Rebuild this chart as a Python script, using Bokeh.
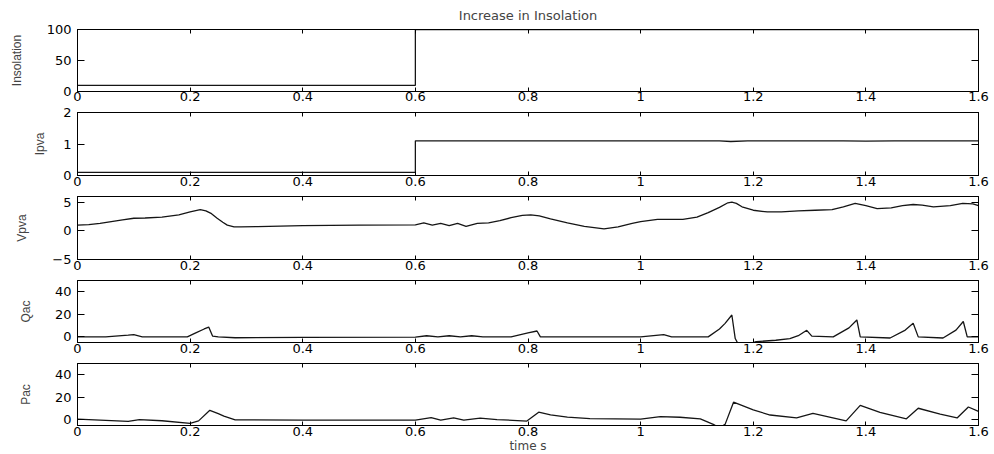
from bokeh.plotting import figure
from bokeh.models import (Range1d, LinearAxis, FixedTicker, NumeralTickFormatter,
                          CustomLabelingPolicy)
from bokeh.layouts import column
from bokeh.embed import file_html
from bokeh.resources import INLINE

# ---------------- data ----------------
x_ticks = [0, 0.2, 0.4, 0.6, 0.8, 1.0, 1.2, 1.4, 1.6]

ins_t = [0.0, 0.6, 0.6, 1.6]
ins_v = [10, 10, 100, 100]

ipva_t = [0.0, 0.6, 0.6, 1.14, 1.16, 1.19, 1.36, 1.40, 1.45, 1.6]
ipva_v = [0.1, 0.1, 1.1, 1.1, 1.08, 1.1, 1.1, 1.09, 1.1, 1.1]

vpva_t = [0, 0.02, 0.04, 0.06, 0.08, 0.1, 0.12, 0.15, 0.18, 0.2, 0.21, 0.218, 0.228,
          0.238, 0.248, 0.258, 0.266, 0.278, 0.29, 0.32, 0.4, 0.5, 0.6, 0.615, 0.63,
          0.645, 0.66, 0.675, 0.69, 0.71, 0.73, 0.75, 0.77, 0.79, 0.805, 0.82, 0.84,
          0.87, 0.9, 0.935, 0.96, 0.985, 1.0, 1.03, 1.075, 1.1, 1.12, 1.14, 1.155,
          1.162, 1.17, 1.18, 1.2, 1.225, 1.25, 1.28, 1.31, 1.34, 1.36, 1.381, 1.40,
          1.42, 1.445, 1.465, 1.484, 1.5, 1.52, 1.55, 1.572, 1.59, 1.6]
vpva_v = [1.0, 1.1, 1.3, 1.6, 1.9, 2.2, 2.25, 2.4, 2.8, 3.3, 3.55, 3.7, 3.5,
          3.0, 2.2, 1.5, 1.0, 0.7, 0.7, 0.75, 0.9, 1.0, 1.05, 1.4, 1.0,
          1.3, 0.9, 1.3, 0.8, 1.3, 1.4, 1.8, 2.3, 2.7, 2.8, 2.6, 2.1,
          1.4, 0.8, 0.35, 0.7, 1.3, 1.6, 2.0, 2.0, 2.4, 3.2, 4.1, 4.9,
          5.0, 4.8, 4.2, 3.6, 3.3, 3.3, 3.5, 3.6, 3.7, 4.2, 4.8, 4.4,
          3.9, 4.0, 4.4, 4.6, 4.5, 4.2, 4.4, 4.8, 4.7, 4.4]

qac_t = [0, 0.05, 0.09, 0.1, 0.115, 0.195, 0.21, 0.225, 0.233, 0.24, 0.25, 0.28, 0.4,
         0.6, 0.62, 0.64, 0.66, 0.68, 0.7, 0.72, 0.74, 0.77, 0.8, 0.816, 0.822, 0.9,
         1.0, 1.041, 1.055, 1.12, 1.14, 1.15, 1.162, 1.168, 1.175, 1.195, 1.205, 1.24,
         1.265, 1.28, 1.295, 1.304, 1.342, 1.37, 1.384, 1.39, 1.443, 1.47, 1.484, 1.493,
         1.537, 1.56, 1.573, 1.58, 1.6]
qac_v = [0, 0, 1.5, 2, 0, 0, 3.5, 7, 8.7, 0.6, 0, -0.8, -0.5,
         -0.3, 1, 0, 1, 0, 1, 0, 0, 0, 3.5, 5.2, 0, 0,
         0, 2, 0, 0, 7, 12, 19.4, -1.5, -8, -6, -4.3, -3,
         -1.5, 1, 5.8, 0.6, 0, 8, 15, 0, -1, 6, 12, 0,
         -1, 6, 13.6, 0, 0]

pac_t = [0, 0.05, 0.09, 0.11, 0.15, 0.2, 0.215, 0.235, 0.25, 0.26, 0.28, 0.4, 0.6,
         0.628, 0.645, 0.668, 0.686, 0.715, 0.745, 0.798, 0.819, 0.84, 0.87, 0.91,
         1.0, 1.035, 1.07, 1.106, 1.129, 1.14, 1.15, 1.165, 1.2, 1.23, 1.277, 1.306,
         1.365, 1.39, 1.425, 1.472, 1.493, 1.532, 1.562, 1.582, 1.6]
pac_v = [0.6, -0.5, -1.4, 0.3, -0.8, -3.1, -0.9, 8.5, 5.5, 3.4, 0, -0.3, -0.3,
         2, -0.3, 1.7, -0.3, 1.5, 0.3, -1.1, 6.8, 4.5, 2.5, 1.1,
         0.6, 2.8, 2.3, 0.9, -4, -7, -4, 15.7, 8.8, 4.3, 1.7, 5.7,
         -0.9, 12.8, 6.6, 0.9, 10.3, 5.1, 1.7, 11.4, 7.5]

panels = [
    ("Insolation", ins_t, ins_v, (0, 100), [0, 50, 100]),
    ("Ipva", ipva_t, ipva_v, (0, 2), [0, 1, 2]),
    ("Vpva", vpva_t, vpva_v, (-5, 6), [-5, 0, 5]),
    ("Qac", qac_t, qac_v, (-5, 50), [0, 20, 40]),
    ("Pac", pac_t, pac_v, (-5, 50), [0, 20, 40]),
]

# layout: (top border, frame height, bottom border, y-label standoff)
sizes = [(29, 62, 13, 20), (8, 63, 16, 13), (5, 63, 16, 20), (5, 62, 16, 19), (5, 64, 28, 19)]

TICK_FONT = "DejaVu Sans"
LINE_COLOR = "#151515"

no_labels = CustomLabelingPolicy(code="""
    const all = [...indices]
    for (const i of all) indices.unset(i)
    return indices
""")


def style_axis(ax, tick_in, labels):
    ax.major_tick_in = tick_in
    ax.major_tick_out = 0
    ax.minor_tick_line_color = None
    ax.axis_line_color = "black"
    ax.axis_line_width = 1
    ax.major_tick_line_color = "black"
    if labels:
        ax.major_label_text_font = TICK_FONT
        ax.major_label_text_font_size = "13px"
        ax.major_label_text_color = "black"
    else:
        ax.major_label_policy = no_labels
        ax.major_label_text_font_size = "1px"
        ax.major_label_standoff = 0


figs = []
for i, ((name, t, v, yr, yt), (tb, fh, bb, ls)) in enumerate(zip(panels, sizes)):
    last = i == len(panels) - 1
    p = figure(width=994, height=tb + fh + bb,
               x_range=Range1d(0, 1.6), y_range=Range1d(*yr),
               x_axis_type=None, y_axis_type=None,
               output_backend="svg", toolbar_location=None,
               min_border_left=77, min_border_right=16,
               min_border_top=tb, min_border_bottom=bb)
    p.outline_line_color = "black"
    p.outline_line_width = 1
    p.background_fill_color = "white"
    p.border_fill_color = "white"

    xt = FixedTicker(ticks=x_ticks)
    yti = FixedTicker(ticks=yt)

    xb = LinearAxis(ticker=xt, formatter=NumeralTickFormatter(format="0.[0]"))
    style_axis(xb, 4, True)
    xb.major_label_standoff = 0 if i == 0 else 1
    if last:
        xb.axis_label = "time s"
        xb.axis_label_text_font = TICK_FONT
        xb.axis_label_text_font_size = "12px"
        xb.axis_label_text_font_style = "normal"
        xb.axis_label_standoff = 0
    p.add_layout(xb, "below")

    xa = LinearAxis(ticker=xt)
    style_axis(xa, 4, False)
    p.add_layout(xa, "above")

    yl = LinearAxis(ticker=yti, formatter=NumeralTickFormatter(format="0"),
                    major_label_overrides={-5: "\u22125"})
    style_axis(yl, 7, True)
    yl.major_label_standoff = 6
    yl.axis_label = name
    yl.axis_label_text_font = "Liberation Sans"
    yl.axis_label_text_font_size = "12px"
    yl.axis_label_text_font_style = "normal"
    yl.axis_label_standoff = ls
    p.add_layout(yl, "left")

    yr_ax = LinearAxis(ticker=yti)
    style_axis(yr_ax, 7, False)
    p.add_layout(yr_ax, "right")

    p.line(t, v, line_color=LINE_COLOR, line_width=1.3)

    if i == 0:
        p.title.text = "Increase in Insolation"
        p.title.align = "center"
        p.title.text_font = TICK_FONT
        p.title.text_font_size = "13px"
        p.title.text_font_style = "normal"
        p.title.standoff = 6
    figs.append(p)

layout = column(*figs, spacing=0)
open("out.html", "w").write(file_html(layout, INLINE))
